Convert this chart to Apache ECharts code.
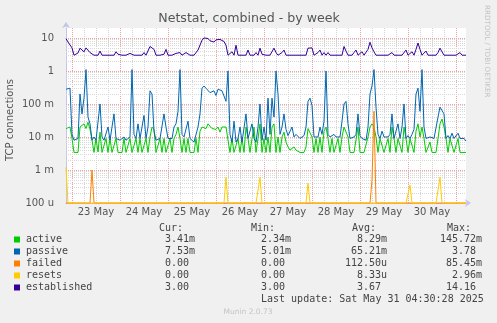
<!DOCTYPE html>
<html><head><meta charset="utf-8">
<script src="https://cdn.jsdelivr.net/npm/echarts@6/dist/echarts.min.js"></script>
<style>html,body{margin:0;padding:0;background:#f0f0f0}#c{width:497px;height:323px}</style>
</head><body><div id="c"></div>
<script>
// hourly samples from 22 May 21:00 to 31 May 05:00 (201 points)
const dayLabels = ['23 May','24 May','25 May','26 May','27 May','28 May','29 May','30 May'];
const yTickLabels = {'-4':'100 u','-3':'1 m','-2':'10 m','-1':'100 m','0':'1','1':'10'};

const active = [
0.018,0.02,0.02,0.009,0.0034,0.0034,0.0034,0.02,0.022,0.025,
0.018,0.028,0.017,0.008,0.0034,0.009,0.0035,0.014,0.0034,0.0034,
0.009,0.0034,0.009,0.0034,0.0035,0.009,0.0034,0.0034,0.0034,0.009,
0.0034,0.0034,0.009,0.0034,0.0034,0.009,0.0034,0.009,0.0034,0.0034,
0.009,0.0034,0.01,0.02,0.017,0.0034,0.0034,0.009,0.0034,0.009,
0.0034,0.0034,0.009,0.0034,0.009,0.012,0.02,0.009,0.0034,0.009,
0.0034,0.009,0.0034,0.0034,0.0034,0.009,0.0034,0.015,0.02,0.022,
0.018,0.025,0.022,0.018,0.02,0.017,0.02,0.014,0.02,0.02,
0.02,0.008,0.0034,0.009,0.0034,0.0034,0.009,0.0034,0.009,0.0034,
0.02,0.009,0.0034,0.009,0.02,0.0034,0.009,0.025,0.0034,0.009,
0.0034,0.01,0.0034,0.02,0.025,0.0034,0.01,0.0034,0.01,0.014,
0.007,0.005,0.004,0.0045,0.005,0.004,0.004,0.0034,0.0034,0.0034,
0.005,0.018,0.018,0.01,0.0034,0.009,0.0034,0.01,0.0034,0.015,
0.02,0.009,0.0034,0.009,0.0034,0.0034,0.009,0.0034,0.01,0.02,
0.022,0.01,0.0034,0.0034,0.0034,0.0034,0.02,0.0034,0.0034,0.0034,
0.0034,0.01,0.02,0.025,0.02,0.01,0.0034,0.009,0.009,0.0034,
0.0034,0.009,0.0034,0.02,0.009,0.0034,0.009,0.009,0.0034,0.02,
0.009,0.0034,0.009,0.009,0.0034,0.015,0.025,0.01,0.02,0.009,
0.0034,0.0034,0.007,0.0034,0.0034,0.0034,0.009,0.025,0.035,0.02,
0.009,0.0034,0.009,0.009,0.0034,0.0034,0.009,0.0034,0.0034,0.0034,
0.0034];

const passive = [
0.28,0.25,0.3,0.012,0.008,0.008,0.009,0.2,0.05,0.15,
1.1,0.04,0.025,0.008,0.01,0.008,0.009,0.1,0.01,0.008,
0.009,0.02,0.008,0.008,0.05,0.009,0.008,0.008,0.009,0.01,
0.008,0.009,0.01,1.1,0.012,0.009,0.025,0.009,0.01,0.045,
0.009,0.02,0.25,0.2,0.015,0.008,0.008,0.009,0.01,0.05,
0.02,0.009,0.008,0.009,0.02,0.025,0.06,1.1,0.012,0.01,
0.009,0.03,0.009,0.008,0.007,0.008,0.02,0.05,0.3,0.35,
0.3,0.28,0.22,0.2,0.25,0.18,0.28,0.28,0.25,0.28,
0.12,1.0,0.012,0.007,0.03,0.007,0.009,0.02,0.007,0.008,
0.05,0.009,0.008,0.025,0.009,0.007,0.02,0.1,0.008,0.02,
0.008,0.15,0.012,0.15,0.04,1.0,0.2,0.012,0.02,0.05,
0.017,0.011,0.012,0.02,0.01,0.012,0.011,0.009,0.01,0.011,
0.02,0.12,0.15,0.09,0.01,0.009,0.01,0.02,0.012,0.03,
1.0,0.012,0.01,0.011,0.012,0.01,0.011,0.01,0.03,0.1,
0.12,0.025,0.009,0.009,0.01,0.012,0.05,0.011,0.009,0.01,
0.008,0.02,0.2,0.35,1.1,0.08,0.012,0.009,0.015,0.01,
0.009,0.01,0.012,0.05,0.009,0.01,0.025,0.009,0.02,0.1,
0.009,0.011,0.009,0.012,0.017,0.2,0.3,0.06,1.1,0.02,
0.009,0.009,0.01,0.009,0.009,0.01,0.04,0.08,0.07,0.05,
0.009,0.011,0.009,0.013,0.009,0.009,0.013,0.009,0.008,0.009,
0.0075];

const failed = [
0,0,0,0,0,0,0,0,0,0,0,0,0,0.001,0,0,0,0,0,0,
0,0,0,0,0,0,0,0,0,0,0,0,0,0,0,0,0,0,0,0,
0,0,0,0,0,0,0,0,0,0,0,0,0,0,0,0,0,0,0,0,
0,0,0,0,0,0,0,0,0,0,0,0,0,0,0,0,0,0,0,0,
0,0,0,0,0,0,0,0,0,0,0,0,0,0,0,0,0,0,0,0,
0,0,0,0,0,0,0,0,0,0,0,0,0,0,0,0,0,0,0,0,
0,0,0,0,0,0,0,0,0,0,0,0,0,0,0,0,0,0,0,0,
0,0,0,0,0,0,0,0,0,0,0,0,0,0.0005,0.06,0,0,0,0,0,
0,0,0,0,0,0,0,0,0,0,0,0,0,0,0,0,0,0,0,0,
0,0,0,0,0,0,0,0,0,0,0,0,0,0,0,0,0,0,0,0,
0];

const resets = [
0.0012,0,0,0,0,0,0,0,0,0,0,0,0,0,0,0,0,0,0,0,
0,0,0,0,0,0,0,0,0,0,0,0,0,0,0,0,0,0,0,0,
0,0,0,0,0,0,0,0,0,0,0,0,0,0,0,0,0,0,0,0,
0,0,0,0,0,0,0,0,0,0,0,0,0,0,0,0,0,0,0,0,
0.0006,0,0,0,0,0,0,0,0,0,0,0,0,0,0,0,0,0.0006,0,0,
0,0,0,0,0,0,0,0,0,0,0,0,0,0,0,0,0,0,0,0,
0,0.0004,0,0,0,0,0,0,0,0,0,0,0,0,0,0,0,0,0,0,
0,0,0,0,0,0,0,0,0,0,0,0,0,0,0,0,0,0,0,0,
0,0,0,0,0,0,0,0,0,0,0,0,0.00035,0,0,0,0,0,0,0,
0,0,0,0,0,0,0,0.0006,0,0,0,0,0,0,0,0,0,0,0,0,
0];

const established = [
9.5,7.5,8.0,5.0,3.0,3.0,3.5,4.9,4.5,3.8,
5.0,4.6,3.6,3.8,3.0,3.4,3.0,4.0,3.0,3.0,
3.0,3.4,3.0,3.0,3.0,3.8,3.2,3.0,3.0,3.0,
3.0,3.0,3.4,3.6,3.0,3.0,3.0,3.4,3.0,3.6,
3.0,3.0,5.5,5.8,4.5,3.0,3.0,3.0,3.0,3.2,
4.5,3.0,3.0,3.0,3.0,3.4,3.0,3.6,3.0,3.0,
3.6,4.0,3.0,3.0,3.0,3.0,4.3,4.9,8.5,10.0,
9.2,9.6,8.2,9.0,7.5,8.8,7.8,9.0,8.5,7.8,
6.0,3.0,3.0,3.8,3.0,6.0,3.0,3.0,3.0,3.4,
3.0,4.3,3.0,3.0,3.0,3.6,3.0,4.9,3.2,3.0,
3.0,3.0,3.0,3.4,4.9,3.6,3.0,3.0,3.6,4.3,
3.0,3.0,3.0,3.4,3.0,3.0,3.0,3.0,3.0,3.4,
3.0,4.9,4.9,5.0,3.0,3.0,3.6,4.3,3.0,3.6,
3.0,3.6,3.0,3.0,3.0,3.0,3.0,3.0,3.0,5.5,
4.0,3.0,3.0,3.0,3.6,4.3,3.0,3.0,3.8,3.0,
3.0,4.5,7.4,5.0,3.8,3.0,3.0,3.0,3.0,3.0,
3.0,3.0,3.0,3.6,3.0,3.0,3.0,3.0,3.0,3.0,
4.3,3.0,3.4,3.8,3.0,4.5,7.0,4.5,3.0,3.0,
4.0,3.0,3.0,3.0,3.0,3.0,3.6,4.9,3.8,3.0,
3.0,3.0,3.0,3.0,3.0,3.0,3.0,3.6,3.0,3.0,
3.0];

const names = ['active','passive','failed','resets','established'];
const colors = ['#00CC00','#0066B3','#FF8000','#FFCC00','#330099'];
const seriesData = [active, passive, failed, resets, established];
const curVals = ['  3.41m','  7.53m','  0.00 ','  0.00 ','  3.00 '];
const minVals = ['  2.34m','  5.01m','  0.00 ','  0.00 ','  3.00 '];
const avgVals = ['  8.29m',' 65.21m','112.50u','  8.33u','  3.67 '];
const maxVals = ['145.72m','  3.78 ',' 85.45m','  2.96m',' 14.16 '];

const categories = active.map((_, i) => i);
const YMIN = 1e-4, YMAX = 20;

// grid line values (decades major, 2..9 minor)
const gridLines = [];
for (let e = -4; e <= 1; e++) {
  gridLines.push([0, Math.pow(10, e), 1]);
  if (e < 1) for (let k = 2; k <= 9; k++) gridLines.push([0, k * Math.pow(10, e), 0]);
}

const chart = echarts.init(document.getElementById('c'), null, {renderer: 'canvas'});
const mono = '"DejaVu Sans Mono", monospace';
const sans = '"DejaVu Sans", sans-serif';
const axisCol = '#c4c4ec';

const graphic = [
  {type:'text', x:249, y:19, style:{text:'Netstat, combined - by week', font:'12.6px ' + sans, fill:'#555', textAlign:'center', textVerticalAlign:'middle'}},
  {type:'text', x:10, y:120, rotation:Math.PI/2, style:{text:'TCP connections', font:'10px ' + sans, fill:'#555', textAlign:'center', textVerticalAlign:'middle'}},
  {type:'text', x:487, y:5, rotation:-Math.PI/2, style:{text:'RRDTOOL / TOBI OETIKER', font:'7.2px ' + sans, fill:'#c4c4c4', textAlign:'left', textVerticalAlign:'middle'}},
  {type:'text', x:159, y:228, style:{text:'Cur:', font:'10px ' + mono, fill:'#444', textVerticalAlign:'middle'}},
  {type:'text', x:251, y:228, style:{text:'Min:', font:'10px ' + mono, fill:'#444', textVerticalAlign:'middle'}},
  {type:'text', x:352, y:228, style:{text:'Avg:', font:'10px ' + mono, fill:'#444', textVerticalAlign:'middle'}},
  {type:'text', x:447, y:228, style:{text:'Max:', font:'10px ' + mono, fill:'#444', textVerticalAlign:'middle'}},
  {type:'text', x:261, y:299.5, style:{text:'Last update: Sat May 31 04:30:28 2025', font:'10px ' + mono, fill:'#444', textVerticalAlign:'middle'}},
  {type:'text', x:248, y:312.5, style:{text:'Munin 2.0.73', font:'7.5px ' + sans, fill:'#c4c4c4', textAlign:'center', textVerticalAlign:'middle'}}
];
names.forEach((n, r) => {
  const y = 239.5 + r * 12;
  graphic.push({type:'rect', shape:{x:14, y:y - 3, width:6, height:6}, style:{fill:colors[r]}});
  graphic.push({type:'text', x:26, y:y, style:{text:n, font:'10px ' + mono, fill:'#444', textVerticalAlign:'middle'}});
  graphic.push({type:'text', x:153, y:y, style:{text:curVals[r], font:'10px ' + mono, fill:'#444', textVerticalAlign:'middle'}});
  graphic.push({type:'text', x:249, y:y, style:{text:minVals[r], font:'10px ' + mono, fill:'#444', textVerticalAlign:'middle'}});
  graphic.push({type:'text', x:345, y:y, style:{text:avgVals[r], font:'10px ' + mono, fill:'#444', textVerticalAlign:'middle'}});
  graphic.push({type:'text', x:440, y:y, style:{text:maxVals[r], font:'10px ' + mono, fill:'#444', textVerticalAlign:'middle'}});
});

const lineSeries = names.map((n, k) => ({
  name: n, type:'line', xAxisIndex:0, yAxisIndex:0,
  data: seriesData[k].map(v => v > 0 ? v : YMIN),
  showSymbol:false, symbol:'none', clip:false, z:3,
  lineStyle:{color:colors[k], width:1}, itemStyle:{color:colors[k]}
}));

const option = {
  animation:false,
  backgroundColor:'#f0f0f0',
  grid:{left:66, top:28, width:400, height:175, show:true, backgroundColor:'#ffffff', borderWidth:0},
  xAxis:[
    {type:'category', data:categories, boundaryGap:false,
     axisLine:{show:true, onZero:false, lineStyle:{color:axisCol, width:1}, symbol:['none','arrow'], symbolSize:[6,6], symbolOffset:[0,5]},
     axisTick:{show:false},
     axisLabel:{interval:(i) => i >= 15 && (i - 15) % 24 === 0, formatter:(v, i) => dayLabels[(i - 15) / 24] || '',
                color:'#555', fontSize:10, fontFamily:'DejaVu Sans', margin:4},
     splitLine:{show:true, interval:(i) => (i - 3) % 6 === 0 && (i - 3) % 24 !== 0, lineStyle:{color:'#d4d4d4', width:1, type:[1,1]}}},
    {type:'category', data:categories, boundaryGap:false, position:'bottom',
     axisLine:{show:false}, axisTick:{show:false}, axisLabel:{show:false},
     splitLine:{show:true, interval:(i) => (i - 3) % 24 === 0, lineStyle:{color:'#f0a0a0', width:1, type:[1,1]}}}
  ],
  yAxis:{type:'log', logBase:10, min:YMIN, max:YMAX,
    axisLine:{show:true, lineStyle:{color:axisCol, width:1}, symbol:['none','arrow'], symbolSize:[6,6], symbolOffset:[0,6]},
    axisTick:{show:false}, splitLine:{show:false}, minorSplitLine:{show:false},
    axisLabel:{color:'#555', fontSize:10, fontFamily:'DejaVu Sans', margin:12,
      formatter:(v) => { const e = Math.log10(v); const r = Math.round(e); return Math.abs(e - r) < 1e-6 && yTickLabels[r] !== undefined ? yTickLabels[r] : ''; }}},
  graphic: graphic,
  series: [{
    type:'custom', xAxisIndex:0, yAxisIndex:0, silent:true, z:1, clip:false,
    data: gridLines, encode:{x:0, y:1},
    renderItem:(params, api) => {
      const cs = params.coordSys;
      const y = Math.round(api.coord([0, api.value(1)])[1]) + 0.5;
      const major = api.value(2) === 1;
      return {type:'line', shape:{x1:cs.x, y1:y, x2:cs.x + cs.width, y2:y},
        style:{stroke: major ? '#f0a0a0' : '#d8d8d8', lineWidth:1, lineDash:[1,1]}};
    }
  }].concat(lineSeries)
};
chart.setOption(option);
</script></body></html>
